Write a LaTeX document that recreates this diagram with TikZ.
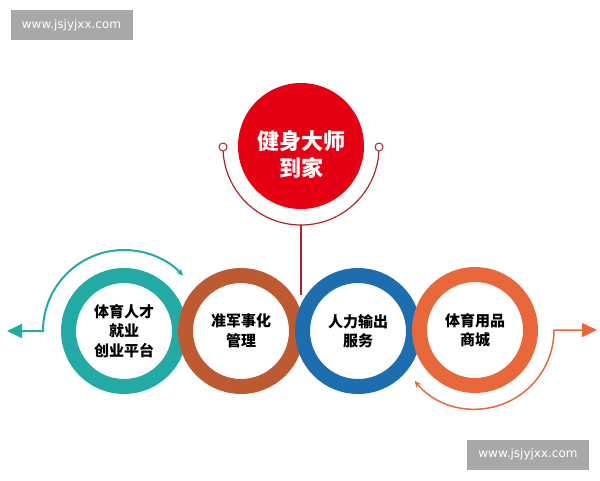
\documentclass[tikz,border=0pt]{standalone}
\usepackage{fontspec}
\newfontfamily\cjk{Noto Sans CJK SC}
\newfontfamily\webfont{DejaVu Sans}
\usepackage{xcolor}
\usetikzlibrary{arrows.meta,positioning}
\definecolor{mainred}{RGB}{230,0,20}
\definecolor{arcred}{RGB}{175,35,45}
\definecolor{ringteal}{RGB}{35,170,165}
\definecolor{ringbrown}{RGB}{190,90,50}
\definecolor{ringblue}{RGB}{30,110,175}
\definecolor{ringorange}{RGB}{232,104,60}
\definecolor{wmgray}{RGB}{168,168,168}
\tikzset{
	ring/.style={circle,draw,line width=15pt,minimum size=111pt,inner sep=0pt,align=center,
		font=\cjk\bfseries\fontsize{15}{19.5}\selectfont},
	wmbox/.style={fill=wmgray,text=white,minimum width=122pt,minimum height=30pt,inner sep=0pt,
		font=\webfont\fontsize{12}{14}\selectfont},
	bigtip/.tip={Triangle[length=15pt,width=14pt]},
	smalltip/.tip={Stealth[length=7pt,width=6pt]}
}
\begin{document}
\begin{tikzpicture}[x=1pt,y=-1pt]
		\useasboundingbox (0,0) rectangle (600,480);
		\node[wmbox] (wmtop) at (71.5,25) {www.jsjyjxx.com};
		\node[wmbox] (wmbot) at (528,454.5) {www.jsjyjxx.com};
		\coordinate (arcL) at (223,147);
		\coordinate (arcB) at (301,225);
		\coordinate (arcR) at (379,147);
		\coordinate (stem) at (301,295);
		\draw[arcred,line width=1.2pt] (arcL) arc[start angle=180,end angle=0,radius=78];
		\draw[arcred,line width=1.2pt] (arcB) -- (stem);
		\draw[arcred,fill=white,line width=1pt] (arcL) circle (4);
		\draw[arcred,fill=white,line width=1pt] (arcR) circle (4);
		\node[circle,fill=mainred,minimum size=126pt] (home) at (301,146) {};
		\node[text=white,align=center,font=\cjk\bfseries\fontsize{22}{27}\selectfont] (hometext) at (301,155) {健身大师\\到家};
		\node[ring,draw=ringteal] (talent) at (124,331) {体育人才\\就业\\创业平台};
		\node[ring,draw=ringbrown] (military) at (241,331) {准军事化\\管理};
		\node[ring,draw=ringblue] (labour) at (358,331) {人力输出\\服务};
		\node[ring,draw=ringorange] (mall) at (475,330) {体育用品\\商城};
		\coordinate (lefttip) at (7,331);
		\coordinate (leftbend) at (43,331);
		\coordinate (mallarc) at (414.5,380.8);
		\coordinate (righttip) at (597,330);
		\draw[ringteal,line width=2pt,bigtip-smalltip] (lefttip) -- (leftbend) arc[start angle=180,end angle=317,radius=81];
		\draw[ringorange,line width=1.5pt,smalltip-bigtip] (mallarc) arc[start angle=140,end angle=0,radius=79] -- (righttip);
	\end{tikzpicture}
\end{document}
